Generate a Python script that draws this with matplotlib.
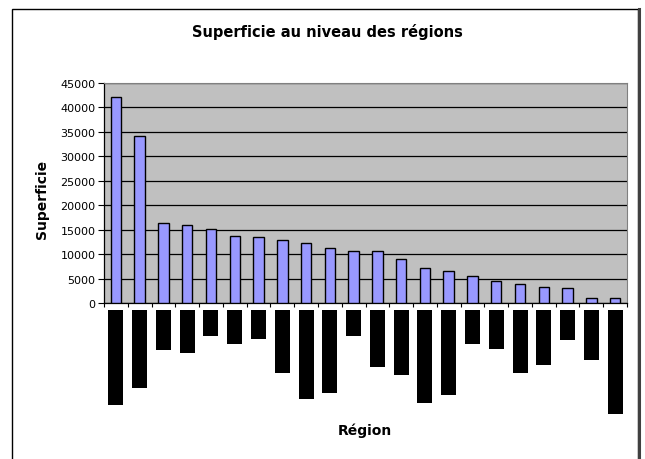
import matplotlib.pyplot as plt
import matplotlib.patches as patches
import numpy as np

plt.rcParams['font.family'] = ['DejaVu Sans']

# surface of each region (sorted)
superficie = [42200, 34200, 16300, 16000, 15200, 13700, 13400, 12800, 12200,
              11300, 10700, 10700, 8900, 7150, 6500, 5600, 4450, 3900, 3300,
              3000, 950, 950]
# the region names come out as black blocks below the axis; block lengths (px)
label_len = [95, 78, 40, 43, 26, 34, 29, 63, 89, 83, 26, 57, 65, 93, 85, 34,
             39, 63, 55, 30, 50, 104]
yticks = np.arange(0, 45001, 5000)

x = np.arange(len(superficie))

fig = plt.figure(figsize=(6.45, 4.6), dpi=100)
W, H = 645, 460

def fig_rect(x0, y0, x1, y1):
    # pixel box (top-left origin) -> figure fraction
    return [x0 / W, 1 - y1 / H, (x1 - x0) / W, (y1 - y0) / H]

# outer chart border
fig.add_artist(patches.Rectangle((11.5 / W, -0.05), (626.5) / W, 1.05 - 9.5 / H,
                                 transform=fig.transFigure, fill=False,
                                 edgecolor='black', lw=1.0))
fig.add_artist(plt.Line2D([638.5 / W, 638.5 / W], [0, 1 - 10 / H],
                          transform=fig.transFigure, color='#404040', lw=2.2))

ax = fig.add_axes(fig_rect(104, 84, 627, 304))
ax.set_facecolor('#C0C0C0')
ax.bar(x, superficie, width=0.44, color='#9999FF', edgecolor='black',
       linewidth=1.0, zorder=3)
ax.set_xlim(-0.5, len(superficie) - 0.5)
ax.set_ylim(0, 45000)
ax.set_yticks(yticks)
ax.set_yticklabels([str(v) for v in yticks], fontsize=8)
ax.yaxis.grid(True, color='black', lw=0.9, zorder=1)
ax.set_axisbelow(True)
ax.set_xticks(np.arange(-0.5, len(superficie), 1.0))
ax.set_xticklabels([])
ax.tick_params(axis='x', length=3, width=0.8, direction='out')
ax.tick_params(axis='y', length=4, width=0.8, direction='out', pad=2)
for s in ['top', 'right']:
    ax.spines[s].set_color('#808080')
for s in ['left', 'bottom']:
    ax.spines[s].set_color('black')
    ax.spines[s].set_linewidth(0.9)

# black blocks where the category labels should be
lab = fig.add_axes(fig_rect(104, 310.5, 627, 420.5))
lab.bar(x, label_len, width=0.63, color='black')
lab.set_xlim(-0.5, len(superficie) - 0.5)
lab.set_ylim(110, 0)
lab.axis('off')

fig.text(327 / W, 1 - 32 / H, 'Superficie au niveau des régions',
         ha='center', va='center', fontsize=10.5, fontweight='bold')
fig.text(365 / W, 1 - 431 / H, 'Région', ha='center', va='center',
         fontsize=10, fontweight='bold')
fig.text(42 / W, 1 - 199 / H, 'Superficie', ha='center', va='center',
         fontsize=10, fontweight='bold', rotation=90)

fig.savefig('out.png', dpi=100)
